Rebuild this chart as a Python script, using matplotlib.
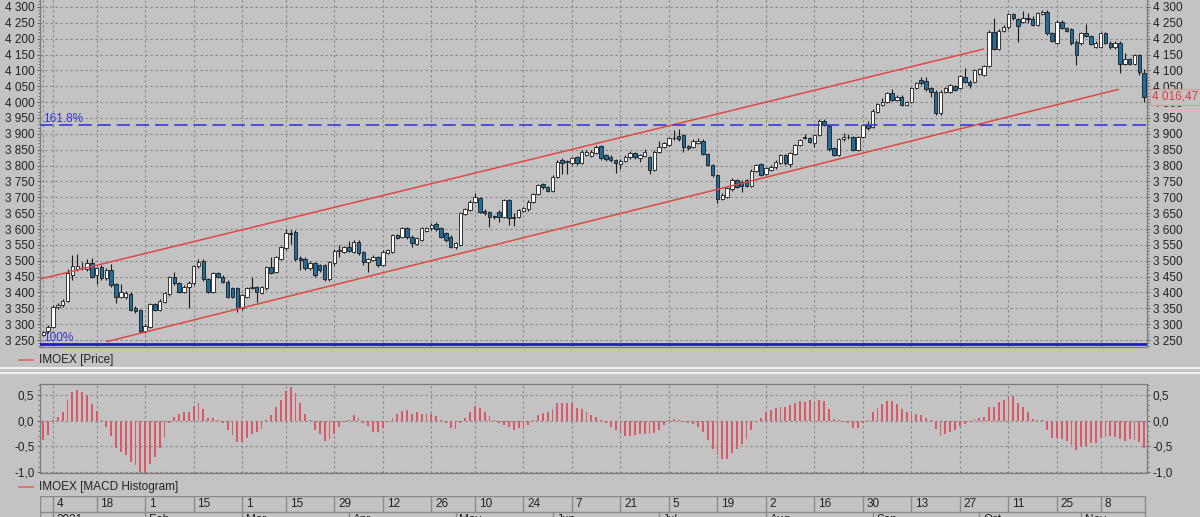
import numpy as np
import pandas as pd
import matplotlib
matplotlib.use('Agg')
import matplotlib.pyplot as plt
import matplotlib.transforms as mtransforms
from matplotlib.lines import Line2D
from matplotlib.ticker import MultipleLocator, FuncFormatter

# ---------------- data ----------------
opens = [3266, 3277, 3292, 3353, 3360, 3374, 3455, 3473, 3478, 3473,
         3494, 3455, 3479, 3444, 3471, 3427, 3387, 3385, 3395, 3350,
         3345, 3279, 3292, 3364, 3345, 3371, 3395, 3448, 3429, 3402,
         3416, 3429, 3483, 3500, 3441, 3402, 3460, 3450, 3434, 3413,
         3413, 3350, 3387, 3415, 3416, 3399, 3413, 3479, 3465, 3507,
         3539, 3587, 3592, 3510, 3507, 3476, 3492, 3486, 3486, 3441,
         3492, 3531, 3529, 3544, 3529, 3560, 3529, 3497, 3502, 3511,
         3486, 3525, 3529, 3581, 3576, 3602, 3576, 3553, 3565, 3595,
         3602, 3616, 3602, 3586, 3576, 3544, 3550, 3647, 3660, 3686,
         3697, 3658, 3655, 3641, 3655, 3639, 3691, 3639, 3639, 3658,
         3662, 3686, 3710, 3742, 3733, 3721, 3765, 3818, 3812, 3807,
         3826, 3809, 3833, 3830, 3841, 3862, 3833, 3828, 3818, 3805,
         3815, 3826, 3839, 3823, 3830, 3826, 3786, 3844, 3858, 3865,
         3886, 3893, 3896, 3862, 3858, 3872, 3879, 3837, 3802, 3770,
         3694, 3702, 3725, 3755, 3749, 3755, 3736, 3784, 3805, 3773,
         3786, 3794, 3809, 3833, 3805, 3837, 3865, 3889, 3886, 3872,
         3896, 3942, 3925, 3854, 3833, 3883, 3891, 3889, 3849, 3891,
         3928, 3923, 3970, 3991, 4001, 4030, 4007, 4017, 3991, 4001,
         4044, 4070, 4068, 4044, 4033, 3965, 4033, 4033, 4051, 4044,
         4080, 4065, 4065, 4089, 4086, 4114, 4222, 4167, 4225, 4236,
         4278, 4261, 4254, 4265, 4261, 4243, 4278, 4285, 4217, 4188,
         4254, 4233, 4230, 4191, 4185, 4219, 4209, 4175, 4175, 4217,
         4188, 4173, 4188, 4120, 4135, 4120, 4149, 4093]
highs = [3280, 3296, 3360, 3366, 3378, 3473, 3518, 3520, 3497, 3507,
         3510, 3480, 3486, 3478, 3490, 3430, 3427, 3404, 3400, 3356,
         3348, 3300, 3368, 3368, 3380, 3402, 3452, 3466, 3433, 3422,
         3435, 3487, 3507, 3504, 3445, 3464, 3463, 3454, 3438, 3416,
         3416, 3396, 3418, 3450, 3420, 3420, 3483, 3511, 3515, 3546,
         3599, 3597, 3596, 3515, 3512, 3498, 3496, 3490, 3490, 3500,
         3536, 3550, 3548, 3563, 3565, 3564, 3532, 3508, 3518, 3515,
         3533, 3538, 3585, 3585, 3606, 3606, 3580, 3575, 3606, 3606,
         3620, 3621, 3606, 3590, 3580, 3560, 3653, 3666, 3690, 3712,
         3702, 3662, 3658, 3645, 3659, 3695, 3695, 3649, 3664, 3669,
         3690, 3714, 3743, 3746, 3737, 3769, 3818, 3824, 3818, 3827,
         3830, 3848, 3848, 3849, 3864, 3866, 3837, 3832, 3822, 3820,
         3832, 3847, 3843, 3837, 3851, 3830, 3848, 3878, 3874, 3890,
         3912, 3914, 3900, 3866, 3883, 3886, 3883, 3841, 3806, 3774,
         3712, 3733, 3760, 3759, 3753, 3759, 3788, 3806, 3809, 3795,
         3801, 3816, 3837, 3837, 3843, 3869, 3884, 3900, 3890, 3900,
         3946, 3946, 3929, 3858, 3887, 3902, 3898, 3893, 3893, 3932,
         3939, 3977, 3998, 4012, 4032, 4040, 4021, 4021, 4005, 4048,
         4063, 4078, 4078, 4048, 4037, 4037, 4048, 4058, 4055, 4086,
         4107, 4069, 4105, 4107, 4118, 4226, 4264, 4229, 4242, 4282,
         4282, 4265, 4288, 4280, 4270, 4284, 4292, 4292, 4221, 4258,
         4258, 4237, 4234, 4195, 4221, 4245, 4213, 4192, 4221, 4221,
         4192, 4192, 4192, 4154, 4139, 4153, 4153, 4105]
lows = [3262, 3273, 3288, 3348, 3355, 3370, 3440, 3468, 3470, 3468,
        3445, 3428, 3440, 3440, 3418, 3366, 3383, 3380, 3340, 3336,
        3273, 3273, 3288, 3340, 3340, 3366, 3390, 3425, 3398, 3398,
        3350, 3425, 3478, 3436, 3397, 3398, 3444, 3430, 3383, 3382,
        3339, 3346, 3383, 3410, 3371, 3395, 3409, 3458, 3460, 3503,
        3535, 3552, 3500, 3470, 3472, 3472, 3450, 3466, 3436, 3436,
        3488, 3513, 3525, 3528, 3525, 3518, 3486, 3465, 3498, 3480,
        3482, 3521, 3525, 3567, 3572, 3570, 3544, 3549, 3561, 3591,
        3598, 3595, 3572, 3560, 3540, 3538, 3546, 3643, 3656, 3682,
        3650, 3644, 3607, 3633, 3623, 3635, 3613, 3609, 3635, 3654,
        3658, 3682, 3706, 3727, 3717, 3717, 3760, 3772, 3775, 3802,
        3803, 3805, 3830, 3826, 3837, 3818, 3815, 3812, 3777, 3790,
        3811, 3822, 3822, 3812, 3826, 3773, 3782, 3840, 3854, 3861,
        3880, 3879, 3844, 3850, 3854, 3868, 3833, 3798, 3765, 3681,
        3690, 3698, 3721, 3730, 3718, 3732, 3732, 3780, 3766, 3769,
        3782, 3790, 3805, 3803, 3797, 3833, 3861, 3884, 3871, 3860,
        3892, 3924, 3846, 3829, 3829, 3879, 3884, 3845, 3845, 3887,
        3913, 3919, 3966, 3987, 3997, 4003, 4003, 3987, 3987, 3997,
        4040, 4055, 4036, 4017, 3960, 3961, 4028, 4029, 4034, 4040,
        4061, 4044, 4061, 4085, 4082, 4110, 4163, 4163, 4221, 4232,
        4260, 4191, 4250, 4249, 4239, 4239, 4274, 4213, 4190, 4184,
        4229, 4221, 4181, 4117, 4181, 4205, 4179, 4171, 4171, 4184,
        4169, 4169, 4091, 4116, 4116, 4116, 4085, 4001]
closes = [3276, 3292, 3355, 3360, 3374, 3460, 3483, 3483, 3476, 3492,
          3450, 3476, 3444, 3471, 3423, 3385, 3402, 3399, 3345, 3342,
          3279, 3295, 3364, 3345, 3374, 3397, 3448, 3429, 3402, 3418,
          3430, 3483, 3497, 3441, 3402, 3460, 3448, 3434, 3387, 3387,
          3350, 3392, 3413, 3417, 3402, 3416, 3479, 3462, 3511, 3542,
          3586, 3585, 3507, 3502, 3476, 3492, 3455, 3471, 3441, 3497,
          3532, 3533, 3544, 3532, 3560, 3523, 3497, 3504, 3513, 3486,
          3529, 3534, 3581, 3571, 3602, 3574, 3555, 3571, 3602, 3602,
          3613, 3599, 3576, 3565, 3544, 3555, 3649, 3662, 3686, 3700,
          3655, 3652, 3639, 3637, 3637, 3691, 3634, 3634, 3660, 3665,
          3686, 3710, 3739, 3731, 3721, 3765, 3812, 3808, 3814, 3823,
          3807, 3844, 3844, 3844, 3860, 3823, 3820, 3818, 3807, 3815,
          3828, 3841, 3826, 3833, 3844, 3786, 3844, 3860, 3870, 3886,
          3887, 3883, 3858, 3854, 3879, 3879, 3837, 3802, 3770, 3694,
          3707, 3728, 3755, 3734, 3736, 3736, 3784, 3802, 3770, 3791,
          3797, 3812, 3833, 3807, 3839, 3865, 3880, 3888, 3875, 3896,
          3942, 3928, 3851, 3833, 3883, 3891, 3890, 3849, 3889, 3928,
          3917, 3973, 3994, 4001, 4028, 4007, 4017, 3991, 4001, 4044,
          4059, 4059, 4040, 4033, 3965, 4033, 4044, 4054, 4038, 4082,
          4065, 4054, 4101, 4103, 4114, 4222, 4167, 4225, 4238, 4278,
          4264, 4240, 4264, 4263, 4243, 4280, 4285, 4217, 4194, 4254,
          4233, 4225, 4185, 4149, 4217, 4209, 4183, 4188, 4217, 4188,
          4173, 4188, 4120, 4135, 4120, 4149, 4096, 4016.47]

macd_hist = [-0.37, -0.28, 0.01, 0.08, 0.17, 0.40, 0.56, 0.59, 0.56, 0.50,
             0.32, 0.19, 0.01, -0.12, -0.30, -0.52, -0.60, -0.67, -0.80, -0.86,
             -0.99, -1.01, -0.83, -0.70, -0.52, -0.32, -0.04, 0.08, 0.13, 0.16,
             0.17, 0.28, 0.34, 0.22, 0.06, 0.05, 0.01, -0.04, -0.19, -0.28,
             -0.41, -0.41, -0.34, -0.25, -0.21, -0.17, 0.01, 0.11, 0.27, 0.41,
             0.58, 0.66, 0.53, 0.34, 0.13, 0.02, -0.18, -0.26, -0.39, -0.36,
             -0.26, -0.12, -0.02, 0.01, 0.11, 0.06, -0.05, -0.10, -0.21, -0.21,
             -0.15, -0.02, 0.06, 0.12, 0.19, 0.21, 0.13, 0.16, 0.12, 0.13,
             0.13, 0.09, 0.01, -0.05, -0.15, -0.17, -0.05, 0.06, 0.17, 0.28,
             0.24, 0.16, 0.09, 0.01, -0.05, -0.08, -0.12, -0.18, -0.15, -0.15,
             -0.08, 0.01, 0.11, 0.14, 0.16, 0.22, 0.34, 0.35, 0.35, 0.34,
             0.24, 0.22, 0.16, 0.11, 0.08, 0.01, -0.05, -0.12, -0.19, -0.26,
             -0.30, -0.30, -0.28, -0.26, -0.26, -0.26, -0.23, -0.18, -0.08, 0.01,
             0.03, 0.01, -0.02, -0.04, -0.06, -0.12, -0.21, -0.37, -0.54, -0.67,
             -0.75, -0.75, -0.63, -0.54, -0.45, -0.36, -0.18, -0.02, 0.05, 0.17,
             0.21, 0.24, 0.27, 0.27, 0.30, 0.35,
             0.39, 0.37, 0.40, 0.37, 0.41, 0.39, 0.22, 0.03, 0.01, -0.02,
             -0.05, -0.15, -0.15, -0.05, 0.01, 0.16, 0.24, 0.32, 0.39, 0.39,
             0.32, 0.22, 0.16, 0.13, 0.13, 0.11, 0.06, 0.01, -0.17, -0.30,
             -0.26, -0.21, -0.19, -0.10, -0.06, -0.02, 0.03, 0.05, 0.08, 0.27,
             0.27, 0.37, 0.41, 0.48, 0.47, 0.35, 0.27, 0.16, 0.03, 0.01,
             0.01, -0.19, -0.34, -0.34, -0.36, -0.39, -0.47, -0.56, -0.49, -0.49,
             -0.44, -0.43, -0.34, -0.32, -0.30, -0.32, -0.36, -0.39, -0.36, -0.37,
             -0.41, -0.52]

# trading calendar
holidays = ['2020-12-31', '2021-01-01', '2021-01-07', '2021-02-23',
            '2021-03-08', '2021-05-03', '2021-11-04']
extra_days = ['2021-02-20']

tick_days = ['2021-01-04', '2021-01-18', '2021-02-01', '2021-02-15', '2021-03-01',
             '2021-03-15', '2021-03-29', '2021-04-12', '2021-04-26', '2021-05-10',
             '2021-05-24', '2021-06-07', '2021-06-21', '2021-07-05', '2021-07-19',
             '2021-08-02', '2021-08-16', '2021-08-30', '2021-09-13', '2021-09-27',
             '2021-10-11', '2021-10-25', '2021-11-08']
month_labels = ['2021', 'Feb', 'Mar', 'Apr', 'May', 'Jun', 'Jul', 'Aug', 'Sep', 'Oct', 'Nov']

# channel and fibonacci levels drawn on the chart
channel_up_x = [-0.7, 193.8]
channel_up_y = [3442, 4167]
channel_dn_x = [13.1, 221.6]
channel_dn_y = [3245, 4040]
fib_levels = [3237, 3928]
fib_names = ['100%', '161.8%']

# ---------------- styling ----------------
BG = '#c3c3c3'
GRID = '#858585'
TXT = '#222222'
UP = '#ffffff'
DOWN = '#1f6e9e'
plt.rcParams['font.family'] = ['Liberation Sans', 'DejaVu Sans']
plt.rcParams['font.size'] = 8.5

dates = pd.bdate_range('2020-12-29', '2021-11-19')
dates = dates.drop(pd.to_datetime(holidays)).union(pd.to_datetime(extra_days))

n = min(len(closes), len(dates))
o = np.array(opens[:n], dtype=float)
h = np.array(highs[:n], dtype=float)
l = np.array(lows[:n], dtype=float)
c = np.array(closes[:n], dtype=float)
m = np.array(macd_hist[:n], dtype=float)
x = np.arange(n)
dates = dates[:n]

tick_idx = [int(dates.searchsorted(pd.Timestamp(d))) for d in tick_days]
tick_lab = [str(pd.Timestamp(d).day) for d in tick_days]
month_idx = [i for i in range(1, n) if dates[i].month != dates[i - 1].month]

W, H = 1200, 517
fig = plt.figure(figsize=(W / 100, H / 100), dpi=100, facecolor=BG)

XL = (-0.68, 227.57)
left, width = 40 / W, 1107 / W


def price_fmt(v, pos):
    return f"{int(round(v)):,}".replace(',', ' ')


def macd_fmt(v, pos):
    if abs(v) < 1e-9:
        v = 0.0
    return f"{v:.1f}".replace('.', ',')


def style_axes(ax):
    ax.set_facecolor(BG)
    for s in ax.spines.values():
        s.set_color('#7c7c7c')
        s.set_linewidth(0.9)
    ax.tick_params(axis='y', which='both', left=True, right=True,
                   labelleft=True, labelright=True, colors='#6a6a6a',
                   labelcolor=TXT, labelsize=8.5, pad=1.5, direction='out')
    ax.tick_params(axis='y', which='major', length=2.5)
    ax.tick_params(axis='y', which='minor', length=1.5)
    ax.tick_params(axis='x', length=0, labelbottom=False)
    ax.grid(True, which='major', color=GRID, linestyle=(0, (2, 2.5)), linewidth=0.8)
    ax.set_axisbelow(True)
    ax.set_xlim(*XL)


# ---------------- price panel ----------------
ax = fig.add_axes([left, 1 - 347 / H, width, 347 / H])
style_axes(ax)
ax.spines['top'].set_visible(False)
ax.set_ylim(3228, 4322)
ax.set_yticks(np.arange(3250, 4301, 50))
ax.yaxis.set_minor_locator(MultipleLocator(10))
ax.yaxis.set_major_formatter(FuncFormatter(price_fmt))
ax.set_xticks([0] + tick_idx)

fills = [UP if c[i] >= o[i] else DOWN for i in range(n)]
body_lo = np.minimum(o, c)
body_h = np.maximum(np.abs(c - o), 1.5)
ax.vlines(x, l, h, color='#1a1a1a', linewidth=0.8, zorder=2)
ax.bar(x, body_h, bottom=body_lo, width=0.72, color=fills,
       edgecolor='#1a1a1a', linewidth=0.6, zorder=3)

ax.plot(channel_up_x, channel_up_y, color='#e04848', linewidth=1.1, zorder=4)
ax.plot(channel_dn_x, channel_dn_y, color='#e04848', linewidth=1.1, zorder=4)

ax.axhline(fib_levels[1], color='#3a3ad8', linewidth=1.2, linestyle=(0, (8, 3.5)), zorder=4)
ax.axhline(fib_levels[0], color='#1c1cc8', linewidth=2.0, zorder=4)
for lv, nm in zip(fib_levels, fib_names):
    ax.text(0.0, lv, nm, color='#3434d4', fontsize=8.5, ha='left', va='bottom', zorder=5)

trans = mtransforms.blended_transform_factory(ax.transAxes, ax.transData)
last_lab = f"{c[-1]:,.2f}".replace(',', ' ').replace('.', ',')
ax.text(1.0045, c[-1], last_lab, transform=trans, color='#e03a3a', fontsize=8.5,
        ha='left', va='center', clip_on=False, zorder=6,
        bbox=dict(boxstyle='square,pad=0.15', fc=BG, ec='#d39a9a', lw=0.8))

# ---------------- MACD histogram panel ----------------
ax2 = fig.add_axes([left, 1 - 473 / H, width, 89 / H])
style_axes(ax2)
ax2.set_ylim(-1.014, 0.711)
ax2.set_yticks([-1.0, -0.5, 0.0, 0.5])
ax2.yaxis.set_minor_locator(MultipleLocator(0.1))
ax2.yaxis.set_major_formatter(FuncFormatter(macd_fmt))
ax2.set_xticks(tick_idx)
ax2.bar(x, m, width=0.38, color='#d95a66', zorder=3)

# ---------------- legends ----------------
for ypx, name in [(360, 'IMOEX [Price]'), (487, 'IMOEX [MACD Histogram]')]:
    yf = 1 - ypx / H
    fig.add_artist(Line2D([19 / W, 33 / W], [yf, yf], color='#e06464', linewidth=1.2))
    fig.text(39 / W, yf, name, color=TXT, fontsize=8.5, ha='left', va='center')

# panel separator
for ypx in (368, 373):
    fig.add_artist(Line2D([0, 1], [1 - ypx / H] * 2, color='#f2f2f2', linewidth=1.4))

# ---------------- date scale ----------------
axd = fig.add_axes([left, 1 - 527 / H, width, 31 / H])
axd.set_xlim(*XL)
axd.set_ylim(0, 2)
axd.axis('off')
box = '#8a8a8a'
axd.hlines([2, 1], XL[0], 227.2, color=box, linewidth=1.0)
axd.vlines([XL[0], 227.2], 0, 2, color=box, linewidth=1.0)
axd.vlines(tick_idx, 1, 2, color=box, linewidth=1.0)
axd.vlines(month_idx, 0, 1, color=box, linewidth=1.0)
for i, lab in zip(tick_idx, tick_lab):
    axd.text(i + 0.8, 1.5, lab, color=TXT, fontsize=8.5, ha='left', va='center')
for i, lab in zip(month_idx, month_labels):
    axd.text(i + 0.8, 0.45, lab, color=TXT, fontsize=8.5, ha='left', va='center')

fig.savefig('out.png', dpi=100, facecolor=BG)
